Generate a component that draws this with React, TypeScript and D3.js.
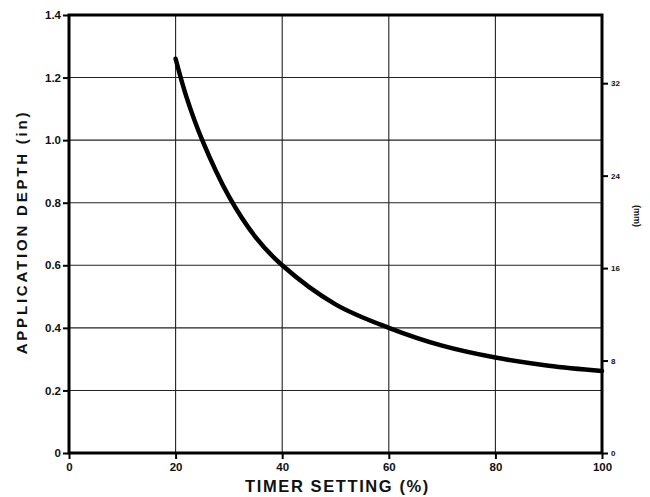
import React, { useEffect, useRef } from 'react';
import * as d3 from 'd3';

// timer setting (%) vs application depth (in)
const timerSetting = [20, 22, 25, 30, 35, 40, 50, 60, 70, 80, 90, 100];
const depthIn = [1.26, 1.14, 1.0, 0.82, 0.69, 0.6, 0.475, 0.4, 0.343, 0.305, 0.279, 0.262];

const xTicks = [0, 20, 40, 60, 80, 100];
const yTicks = [0, 0.2, 0.4, 0.6, 0.8, 1.0, 1.2, 1.4];
const yTickLabels = ['0', '0.2', '0.4', '0.6', '0.8', '1.0', '1.2', '1.4'];
const mmTicks = [0, 8, 16, 24, 32];

export default function App() {
  const ref = useRef<SVGSVGElement>(null);

  useEffect(() => {
    const W = 650, H = 497;
    const margin = { top: 15, right: 48, bottom: 44, left: 69 };
    const width = W - margin.left - margin.right;
    const height = H - margin.top - margin.bottom;

    const svg = d3.select(ref.current);
    svg.selectAll('*').remove();
    svg.append('rect').attr('width', W).attr('height', H).attr('fill', '#fff');

    const g = svg.append('g').attr('transform', `translate(${margin.left},${margin.top})`);

    const x = d3.scaleLinear().domain([0, 100]).range([0, width]);
    const y = d3.scaleLinear().domain([0, 1.4]).range([height, 0]);
    // right-hand mm scale as drawn on the original
    const yMm = d3.scaleLinear().domain([0, 37.9]).range([height, 0]);

    const font = '"Liberation Sans", Arial, sans-serif';

    // grid
    g.append('g')
      .selectAll('line')
      .data(xTicks.filter(d => d > 0 && d < 100))
      .join('line')
      .attr('x1', d => x(d)).attr('x2', d => x(d))
      .attr('y1', 0).attr('y2', height)
      .attr('stroke', '#222').attr('stroke-width', 1.1);

    g.append('g')
      .selectAll('line')
      .data(yTicks.filter(d => d > 0 && d < 1.4))
      .join('line')
      .attr('x1', 0).attr('x2', width)
      .attr('y1', d => y(d)).attr('y2', d => y(d))
      .attr('stroke', '#222').attr('stroke-width', 1.1);

    // left axis
    const left = g.append('g')
      .call(d3.axisLeft(y).tickValues(yTicks).tickSize(6).tickPadding(2)
        .tickFormat((d, i) => yTickLabels[i]));
    left.select('.domain').remove();
    left.selectAll('line').attr('stroke', '#000').attr('stroke-width', 2);
    left.selectAll('text').attr('font-family', font).attr('font-weight', 'bold')
      .attr('font-size', 11.5).attr('fill', '#111');

    // bottom axis
    const bottom = g.append('g')
      .attr('transform', `translate(0,${height})`)
      .call(d3.axisBottom(x).tickValues(xTicks).tickSize(6).tickPadding(4));
    bottom.select('.domain').remove();
    bottom.selectAll('line').attr('stroke', '#000').attr('stroke-width', 2);
    bottom.selectAll('text').attr('font-family', font).attr('font-weight', 'bold')
      .attr('font-size', 11.5).attr('fill', '#111');

    // right axis (mm)
    const right = g.append('g')
      .attr('transform', `translate(${width},0)`)
      .call(d3.axisRight(yMm).tickValues(mmTicks).tickSize(6).tickPadding(3));
    right.select('.domain').remove();
    right.selectAll('line').attr('stroke', '#000').attr('stroke-width', 2);
    right.selectAll('text').attr('font-family', font).attr('font-weight', 'bold')
      .attr('font-size', 8).attr('fill', '#111');

    // frame
    g.append('rect')
      .attr('width', width).attr('height', height)
      .attr('fill', 'none').attr('stroke', '#000').attr('stroke-width', 3);

    // curve
    const line = d3.line<number>()
      .x((d, i) => x(timerSetting[i]))
      .y(d => y(d))
      .curve(d3.curveCatmullRom);

    g.append('path')
      .datum(depthIn)
      .attr('fill', 'none')
      .attr('stroke', '#000')
      .attr('stroke-width', 4.5)
      .attr('stroke-linecap', 'round')
      .attr('d', line);

    // titles
    svg.append('text')
      .attr('x', margin.left + width / 2 + 2).attr('y', 492)
      .attr('text-anchor', 'middle')
      .attr('font-family', font).attr('font-weight', 'bold').attr('font-size', 16.5)
      .attr('letter-spacing', 1.6)
      .attr('fill', '#111')
      .text('TIMER SETTING (%)');

    svg.append('text')
      .attr('transform', `translate(27,${232}) rotate(-90)`)
      .attr('text-anchor', 'middle')
      .attr('font-family', font).attr('font-weight', 'bold').attr('font-size', 15)
      .attr('letter-spacing', 2.8)
      .attr('fill', '#111')
      .text('APPLICATION DEPTH (in)');

    svg.append('text')
      .attr('transform', `translate(634,${216}) rotate(90)`)
      .attr('text-anchor', 'middle')
      .attr('font-family', font).attr('font-weight', 'bold').attr('font-size', 9)
      .attr('fill', '#111')
      .text('(mm)');
  }, []);

  return (
    <svg ref={ref} width={650} height={497}
      style={{ position: 'absolute', left: 0, top: 0, display: 'block' }} />
  );
}
